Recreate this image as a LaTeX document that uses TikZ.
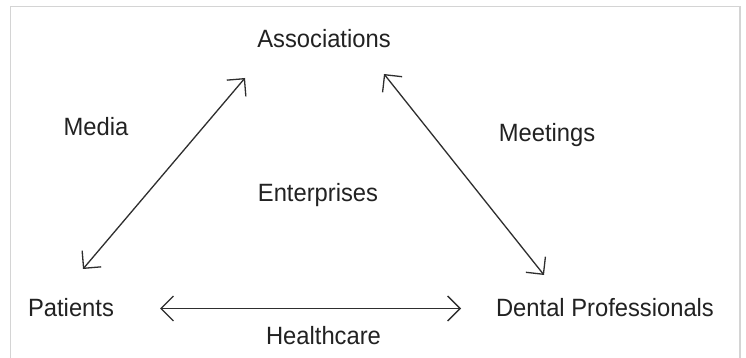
\documentclass[tikz,border=0pt]{standalone}
\usepackage{fontspec}
\setmainfont[FakeStretch=0.95]{Liberation Sans}
\usetikzlibrary{arrows.meta}
\definecolor{txt}{HTML}{222222}
\definecolor{ln}{HTML}{2E2E2E}
\definecolor{frame}{HTML}{D4D4D4}
\begin{document}
\begin{tikzpicture}[x=1pt,y=1pt,
  lbl/.style={inner sep=0pt,anchor=base,text=txt,font=\fontsize{25}{29}\selectfont},
  link/.style={draw=ln,line width=1.3pt,{Straight Barb[length=12.5pt,width=25pt,line width=1.3pt]}-{Straight Barb[length=12.5pt,width=25pt,line width=1.3pt]}}]
\useasboundingbox (0,0) rectangle (746,358);
\fill[white] (0,0) rectangle (746,358);
\draw[frame,line width=1.5pt] (10.5,-2) -- (10.5,351.5) -- (740,351.5) -- (740,-2);
% labels
\node[lbl] (assoc) at (324,310) {Associations};
\node[lbl] (media) at (96,222) {Media};
\node[lbl] (meet) at (547,216) {Meetings};
\node[lbl] (ent) at (318,156) {Enterprises};
\node[lbl] (pat) at (71,41) {Patients};
\node[lbl] (dent) at (605,41) {Dental Professionals};
\node[lbl] (health) at (323.5,13) {Healthcare};
% connector ends
\coordinate (l1) at (83,89);
\coordinate (l2) at (245,280);
\coordinate (r1) at (384,284);
\coordinate (r2) at (544,83);
\coordinate (b1) at (160,49.5);
\coordinate (b2) at (461,49.5);
\draw[link] (l1) -- (l2);
\draw[link] (r1) -- (r2);
\draw[link] (b1) -- (b2);
\end{tikzpicture}
\end{document}
